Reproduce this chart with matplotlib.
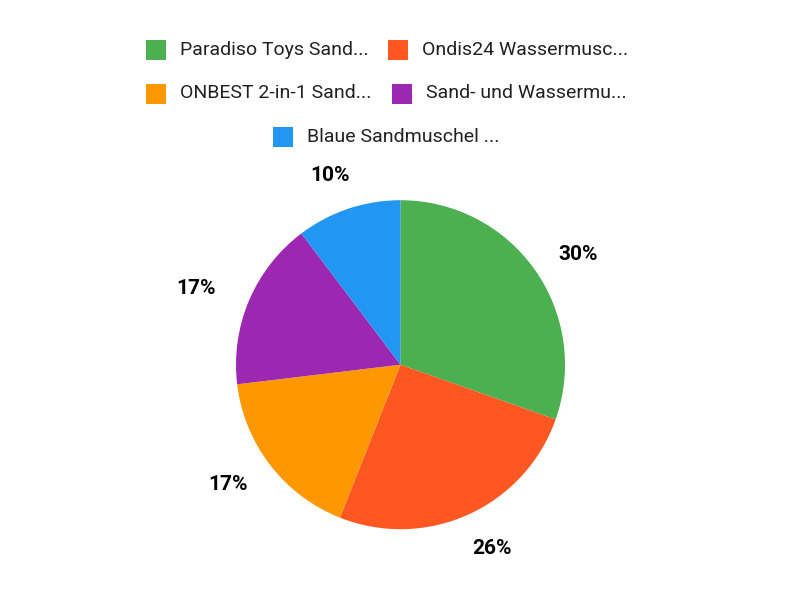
import numpy as np
import matplotlib
matplotlib.use("Agg")
import matplotlib.pyplot as plt
from matplotlib.patches import Rectangle

labels = ["Paradiso Toys Sand...", "Ondis24 Wassermusc...", "ONBEST 2-in-1 Sand...",
          "Sand- und Wassermu...", "Blaue Sandmuschel ..."]
values = [30.4, 25.6, 17.1, 16.6, 10.3]
colors = ["#4CAF50", "#FF5722", "#FF9800", "#9C27B0", "#2196F3"]

plt.rcParams['font.family'] = ['Roboto', 'DejaVu Sans']

W, H = 800, 600
fig = plt.figure(figsize=(8, 6), dpi=100)
ax = fig.add_axes([0, 0, 1, 1])

cx, cy, R = 400.5, H - 364.7, 164.5
wedges, _ = ax.pie(values, colors=colors, startangle=90, counterclock=False,
                   center=(cx, cy), radius=R, wedgeprops=dict(linewidth=0))
ax.set_xlim(0, W)
ax.set_ylim(0, H)
ax.set_aspect('equal')
ax.axis('off')

total = sum(values)
D, ax_off, ay_off = 250, -26, -45.5
fs = 15
cap_half = 0.711 * fs * 100 / 72 / 2
for w, v in zip(wedges, values):
    mid = np.deg2rad((w.theta1 + w.theta2) / 2)
    dx, dy = np.cos(mid), np.sin(mid)
    m = max(abs(dx), abs(dy))
    x = cx + dx * D + ax_off * dx / m
    y = cy + dy * D + ay_off * dy / m
    ax.text(x, y - cap_half, f"{round(v / total * 100)}%",
            ha='center', va='baseline', fontsize=fs, fontweight='bold', color='#000000')

# legend (Chart.js style, centered rows)
rows = [[0, 1], [2, 3], [4]]
row_y = [50, 93.5, 136.5]
starts = [[146, 388], [146, 392], [273]]
for r, idxs in enumerate(rows):
    for k, i in enumerate(idxs):
        x0 = starts[r][k]
        yc = row_y[r]
        ax.add_patch(Rectangle((x0, H - yc - 10), 20, 20, facecolor=colors[i],
                               edgecolor='none', clip_on=False))
        ax.text(x0 + 34, H - yc, labels[i], ha='left', va='center',
                fontsize=14, color='#212121')

fig.savefig("out.png", dpi=100)
